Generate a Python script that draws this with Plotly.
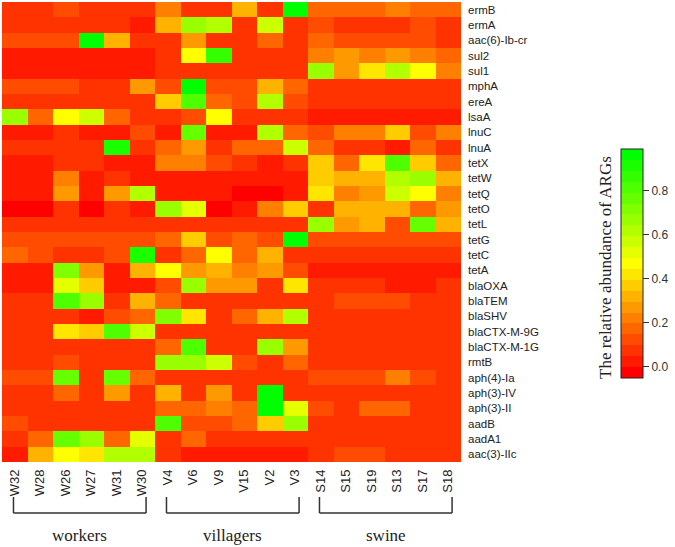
import plotly.graph_objects as go

samples = ["W32", "W28", "W26", "W27", "W31", "W30",
           "V4", "V6", "V9", "V15", "V2", "V3",
           "S14", "S15", "S19", "S13", "S17", "S18"]

genes = ["ermB", "ermA", "aac(6)-Ib-cr", "sul2", "sul1", "mphA", "ereA", "lsaA",
         "lnuC", "lnuA", "tetX", "tetW", "tetQ", "tetO", "tetL", "tetG", "tetC",
         "tetA", "blaOXA", "blaTEM", "blaSHV", "blaCTX-M-9G", "blaCTX-M-1G", "rmtB",
         "aph(4)-Ia", "aph(3)-IV", "aph(3)-II", "aadB", "aadA1", "aac(3)-IIc"]

ermB = [0.05, 0.05, 0.12, 0.05, 0.05, 0.08, 0.24, 0.05, 0.05, 0.34, 0.06, 0.97, 0.19, 0.16, 0.16, 0.21, 0.19, 0.17]
ermA = [0.05, 0.05, 0.05, 0.05, 0.05, 0.04, 0.33, 0.67, 0.63, 0.07, 0.55, 0.08, 0.12, 0.09, 0.09, 0.05, 0.12, 0.09]
aac6 = [0.11, 0.12, 0.10, 0.95, 0.31, 0.08, 0.08, 0.25, 0.07, 0.07, 0.19, 0.08, 0.18, 0.10, 0.14, 0.14, 0.14, 0.09]
sul2 = [0.03, 0.03, 0.03, 0.03, 0.03, 0.03, 0.05, 0.47, 0.87, 0.07, 0.05, 0.07, 0.21, 0.26, 0.21, 0.29, 0.24, 0.19]
sul1 = [0.03, 0.03, 0.03, 0.03, 0.03, 0.03, 0.05, 0.08, 0.05, 0.05, 0.05, 0.05, 0.66, 0.29, 0.44, 0.60, 0.47, 0.21]
mphA = [0.11, 0.11, 0.11, 0.09, 0.09, 0.25, 0.12, 0.97, 0.11, 0.11, 0.32, 0.18, 0.09, 0.08, 0.08, 0.08, 0.07, 0.08]
ereA = [0.08, 0.08, 0.08, 0.08, 0.08, 0.08, 0.39, 0.83, 0.15, 0.12, 0.64, 0.13, 0.07, 0.07, 0.07, 0.07, 0.07, 0.07]
lsaA = [0.67, 0.17, 0.47, 0.58, 0.15, 0.09, 0.08, 0.11, 0.47, 0.07, 0.07, 0.07, 0.04, 0.04, 0.04, 0.04, 0.04, 0.04]
lnuC = [0.02, 0.02, 0.07, 0.02, 0.01, 0.12, 0.03, 0.77, 0.03, 0.03, 0.63, 0.17, 0.12, 0.23, 0.23, 0.38, 0.11, 0.23]
lnuA = [0.07, 0.05, 0.05, 0.05, 0.90, 0.08, 0.17, 0.29, 0.05, 0.17, 0.19, 0.55, 0.16, 0.08, 0.08, 0.04, 0.15, 0.07]
tetX = [0.03, 0.03, 0.05, 0.05, 0.04, 0.02, 0.21, 0.21, 0.12, 0.05, 0.03, 0.07, 0.37, 0.16, 0.40, 0.84, 0.36, 0.15]
tetW = [0.03, 0.03, 0.23, 0.04, 0.05, 0.04, 0.04, 0.04, 0.04, 0.04, 0.04, 0.04, 0.37, 0.31, 0.31, 0.64, 0.65, 0.32]
tetQ = [0.00, 0.00, 0.26, 0.00, 0.27, 0.60, 0.00, 0.00, 0.01, -0.03, -0.03, 0.04, 0.41, 0.21, 0.27, 0.56, 0.47, 0.23]
tetO = [-0.05, -0.05, 0.05, -0.05, 0.07, 0.01, 0.69, 0.52, -0.05, 0.02, 0.21, 0.36, 0.08, 0.31, 0.31, 0.34, 0.16, 0.29]
tetL = [0.08, 0.08, 0.08, 0.08, 0.08, 0.08, 0.08, 0.08, 0.08, 0.08, 0.08, 0.08, 0.66, 0.29, 0.32, 0.11, 0.77, 0.31]
tetG = [0.10, 0.10, 0.10, 0.10, 0.10, 0.10, 0.16, 0.36, 0.12, 0.18, 0.12, 0.97, 0.11, 0.11, 0.11, 0.11, 0.11, 0.11]
tetC = [0.15, 0.10, 0.06, 0.08, 0.10, 0.93, 0.07, 0.15, 0.45, 0.19, 0.34, 0.07, 0.08, 0.07, 0.07, 0.08, 0.07, 0.06]
tetA = [0.01, 0.01, 0.73, 0.29, 0.04, 0.34, 0.47, 0.29, 0.32, 0.24, 0.26, 0.11, 0.02, 0.01, 0.01, 0.02, 0.00, 0.00]
blaOXA = [0.04, 0.04, 0.52, 0.36, 0.04, 0.04, 0.14, 0.69, 0.29, 0.26, 0.05, 0.44, 0.05, 0.05, 0.05, 0.04, 0.04, 0.05]
blaTEM = [0.07, 0.07, 0.84, 0.66, 0.07, 0.34, 0.16, 0.09, 0.09, 0.09, 0.09, 0.09, 0.07, 0.11, 0.11, 0.14, 0.07, 0.09]
blaSHV = [0.05, 0.05, 0.07, 0.04, 0.10, 0.15, 0.73, 0.40, 0.05, 0.17, 0.33, 0.60, 0.07, 0.07, 0.07, 0.07, 0.06, 0.06]
blaCTXM9G = [0.09, 0.09, 0.42, 0.35, 0.81, 0.55, 0.08, 0.08, 0.08, 0.08, 0.08, 0.08, 0.08, 0.07, 0.09, 0.09, 0.09, 0.07]
blaCTXM1G = [0.09, 0.09, 0.09, 0.07, 0.07, 0.07, 0.17, 0.80, 0.08, 0.07, 0.66, 0.29, 0.09, 0.09, 0.09, 0.09, 0.09, 0.09]
rmtB = [0.07, 0.06, 0.11, 0.05, 0.05, 0.05, 0.66, 0.66, 0.58, 0.10, 0.05, 0.15, 0.08, 0.08, 0.08, 0.08, 0.07, 0.08]
aph4Ia = [0.11, 0.14, 0.77, 0.06, 0.77, 0.19, 0.07, 0.07, 0.07, 0.07, 0.06, 0.06, 0.14, 0.12, 0.11, 0.21, 0.12, 0.09]
aph3IV = [0.08, 0.08, 0.19, 0.07, 0.29, 0.08, 0.34, 0.07, 0.27, 0.07, 0.97, 0.09, 0.09, 0.08, 0.08, 0.08, 0.08, 0.08]
aph3II = [0.05, 0.05, 0.06, 0.06, 0.05, 0.06, 0.19, 0.19, 0.21, 0.18, 0.97, 0.50, 0.12, 0.09, 0.15, 0.15, 0.09, 0.08]
aadB = [0.11, 0.09, 0.09, 0.09, 0.09, 0.09, 0.81, 0.12, 0.10, 0.18, 0.37, 0.66, 0.09, 0.09, 0.09, 0.09, 0.09, 0.09]
aadA1 = [0.07, 0.17, 0.77, 0.65, 0.19, 0.50, 0.08, 0.18, 0.07, 0.07, 0.07, 0.07, 0.07, 0.07, 0.07, 0.07, 0.07, 0.07]
aac3IIc = [0.02, 0.34, 0.45, 0.41, 0.64, 0.60, 0.07, 0.02, 0.02, 0.02, 0.02, 0.02, 0.07, 0.11, 0.12, 0.09, 0.05, 0.09]

groups = ["workers", "villagers", "swine"]
group_first = ["W32", "V4", "S14"]
group_last = ["W30", "V3", "S18"]

z = [ermB, ermA, aac6, sul2, sul1, mphA, ereA, lsaA, lnuC, lnuA, tetX, tetW, tetQ,
     tetO, tetL, tetG, tetC, tetA, blaOXA, blaTEM, blaSHV, blaCTXM9G, blaCTXM1G,
     rmtB, aph4Ia, aph3IV, aph3II, aadB, aadA1, aac3IIc]

# stepped red -> yellow -> green colour ramp
nsteps = 21
def ramp(t):
    if t <= 0.5:
        r, g = 255, int(round(255 * t / 0.5))
    else:
        r, g = int(round(255 * (1 - t) / 0.5)), 255
    return f"rgb({r},{g},0)"

colorscale = []
for i in range(nsteps):
    c = ramp(i / (nsteps - 1))
    colorscale.append([i / nsteps, c])
    colorscale.append([(i + 1) / nsteps, c])

# plot area in pixels
PL, PR, PT, PB = 2, 461, 2, 462
plot_w = PR - PL
plot_h = PB - PT

fig = go.Figure()
fig.add_trace(go.Heatmap(
    z=z, x=samples, y=genes,
    colorscale=colorscale, zmin=-0.05, zmax=0.99,
    colorbar=dict(
        x=(621 - PL) / plot_w, xanchor="left", xpad=0,
        y=(PB - 263.5) / plot_h, yanchor="middle", ypad=0,
        thickness=22, lenmode="fraction", len=229 / plot_h,
        outlinecolor="#222", outlinewidth=1,
        tickvals=[0, 0.2, 0.4, 0.6, 0.8], tickformat=".1f",
        ticks="outside", ticklen=6, tickcolor="#333",
        tickfont=dict(family="Liberation Sans, Arial", size=12, color="#333"),
    ),
    hoverongaps=False,
))

fig.update_xaxes(
    type="category", tickangle=-90, ticks="", showgrid=False, zeroline=False,
    tickfont=dict(family="Liberation Sans, Arial", size=13, color="#222"),
    ticklabelstandoff=4, automargin=False,
)
fig.update_yaxes(
    type="category", autorange="reversed", side="right", ticks="", showgrid=False,
    zeroline=False, automargin=False,
    tickfont=dict(family="Liberation Sans, Arial", size=11.5, color="#222"),
    ticklabelstandoff=6,
)

shapes = []
annotations = []
for g, a, b in zip(groups, group_first, group_last):
    i0 = samples.index(a) - 0.05
    i1 = samples.index(b) + 0.15
    ytop = -(497 - PB) / plot_h
    ybot = -(513 - PB) / plot_h
    line = dict(color="#333", width=1.5)
    shapes.append(dict(type="line", xref="x", yref="paper", x0=i0, x1=i0, y0=ytop, y1=ybot, line=line))
    shapes.append(dict(type="line", xref="x", yref="paper", x0=i1, x1=i1, y0=ytop, y1=ybot, line=line))
    shapes.append(dict(type="line", xref="x", yref="paper", x0=i0, x1=i1, y0=ybot, y1=ybot, line=line))
    annotations.append(dict(text=g, xref="x", yref="paper", x=(i0 + i1) / 2, y=-(535 - PB) / plot_h,
                            showarrow=False, yanchor="middle",
                            font=dict(family="Liberation Serif, Times New Roman", size=17, color="#222")))

annotations.append(dict(text="The relative abundance of ARGs", xref="paper", yref="paper",
                        x=(605 - PL) / plot_w, y=(PB - 268) / plot_h, textangle=-90,
                        showarrow=False, xanchor="center", yanchor="middle",
                        font=dict(family="Liberation Serif, Times New Roman", size=17, color="#222")))

fig.update_layout(
    width=675, height=547,
    margin=dict(l=PL, r=675 - PR, t=PT, b=547 - PB, autoexpand=False),
    paper_bgcolor="white", plot_bgcolor="white",
    shapes=shapes, annotations=annotations,
    showlegend=False,
)

fig.write_html("out.html",
               config={"displayModeBar": False},
               post_script="document.body.style.margin='0';document.body.style.overflow='hidden';")
